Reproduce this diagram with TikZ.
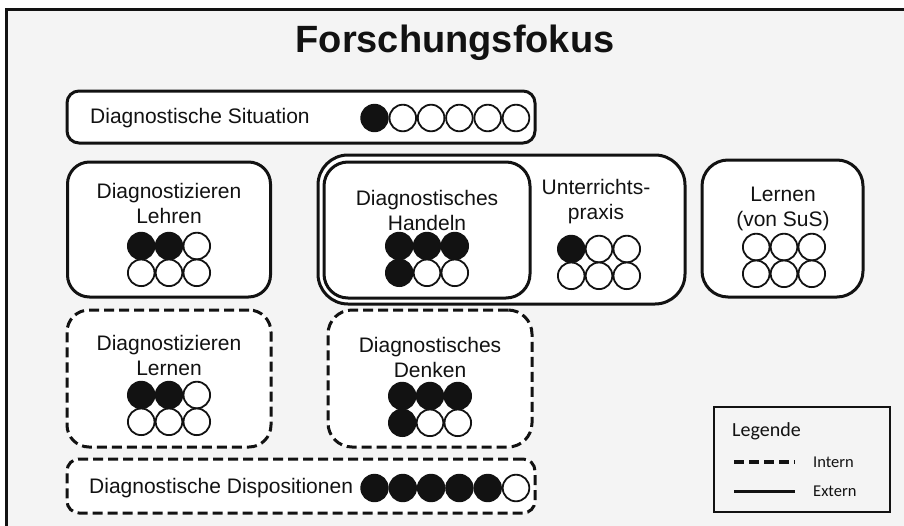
\documentclass[tikz,border=0pt]{standalone}
\usepackage{fontspec}
\setmainfont{Liberation Sans}
\newfontfamily\legfont{Carlito}
\definecolor{bg}{HTML}{F4F4F4}
\definecolor{ink}{HTML}{121212}
\newcommand\dotgrid[3]{%
  \foreach \i in {0,...,5}{%
    \pgfmathtruncatemacro\cc{mod(\i,3)}%
    \pgfmathtruncatemacro\rr{div(\i,3)}%
    \ifnum\i<#3\relax\def\ff{ink}\else\def\ff{white}\fi
    \draw[dotline, fill=\ff] ({#1+(\cc-1)*27.8}, {#2+\rr*26.8}) circle (13.3pt);
  }}
\newcommand\dotline[3]{%
  \foreach \i in {0,...,5}{%
    \ifnum\i<#3\relax\def\ff{ink}\else\def\ff{white}\fi
    \draw[dotline, fill=\ff] ({#1+\i*28.3}, #2) circle (13.3pt);
  }}
\tikzset{
  sbox/.style={draw=ink, line width=3pt, fill=white, rounded corners=#1, inner sep=0pt},
  dbox/.style={sbox=#1, dash pattern=on 10pt off 5pt},
  dotline/.style={draw=ink, line width=1.8pt},
  lbl/.style={text=ink, font=\fontsize{21}{25}\selectfont, align=center, inner sep=0pt},
  leg/.style={text=ink, font=\legfont\fontsize{16.5}{18}\selectfont, inner sep=0pt, anchor=west},
}
\begin{document}
\begin{tikzpicture}[x=1pt, y=-1pt]
\useasboundingbox (0,0) rectangle (904,525);
\clip (0,0) rectangle (904,525);
\fill[white] (0,0) rectangle (904,525);
\filldraw[fill=bg, draw=ink, line width=3pt] (6,9) rectangle (930,560);

\node[text=ink, font=\bfseries\fontsize{38}{40}\selectfont, inner sep=0pt] (title) at (455,43) {Forschungsfokus};

% Diagnostische Situation
\node[sbox=12pt, minimum width=468pt, minimum height=52pt] (sit) at (301,117) {};
\node[lbl, anchor=west] (sittxt) at (90,118) {Diagnostische Situation};
\dotline{374.5}{118}{1}

% Diagnostizieren Lehren
\node[sbox=22pt, minimum width=203pt, minimum height=135pt] (lehren) at (169,229.5) {};
\node[lbl] (lehrentxt) at (169,203) {Diagnostizieren\\Lehren};
\dotgrid{169}{246}{2}

% Unterrichtspraxis (double box)
\node[sbox=30pt, minimum width=367pt, minimum height=149pt] (praxis) at (501.5,229.5) {};
\node[sbox=24pt, minimum width=206pt, minimum height=136pt] (handeln) at (427,230) {};
\node[lbl] (handelntxt) at (427,210) {Diagnostisches\\Handeln};
\dotgrid{427}{246}{4}
\node[lbl] (praxistxt) at (596,202) {Unterrichts-\\praxis};
\dotgrid{599}{249}{1}

% Lernen (von SuS)
\node[sbox=26pt, minimum width=161pt, minimum height=137pt] (lernen) at (782.5,228.5) {};
\node[lbl] (lernentxt) at (783,208.5) {Lernen\\(von SuS)};
\dotgrid{784}{247}{0}

% Diagnostizieren Lernen
\node[dbox=22pt, minimum width=204pt, minimum height=137pt] (dlernen) at (169,378.5) {};
\node[lbl] (dlernentxt) at (169,355) {Diagnostizieren\\Lernen};
\dotgrid{169}{395}{2}

% Diagnostisches Denken
\node[dbox=24pt, minimum width=204pt, minimum height=137pt] (denken) at (430,378.5) {};
\node[lbl] (denkentxt) at (430,357) {Diagnostisches\\Denken};
\dotgrid{430}{396}{4}

% Diagnostische Dispositionen
\node[dbox=12pt, minimum width=468pt, minimum height=54pt] (disp) at (301,486) {};
\node[lbl, anchor=west] (disptxt) at (89,488) {Diagnostische Dispositionen};
\dotline{374.5}{488}{5}

% Legende
\node[draw=ink, line width=2pt, minimum width=176pt, minimum height=105pt, inner sep=0pt] (legend) at (802,459.5) {};
\node[leg, font=\legfont\fontsize{20}{22}\selectfont] (legtitle) at (732,431) {Legende};
\coordinate (i1) at (734,462);
\coordinate (i2) at (795,462);
\coordinate (e1) at (734,491);
\coordinate (e2) at (795,491);
\draw[ink, line width=3.5pt, dash pattern=on 10pt off 5pt] (i1) -- (i2);
\draw[ink, line width=3pt] (e1) -- (e2);
\node[leg] (intern) at (813,462) {Intern};
\node[leg] (extern) at (813,491) {Extern};
\end{tikzpicture}
\end{document}
